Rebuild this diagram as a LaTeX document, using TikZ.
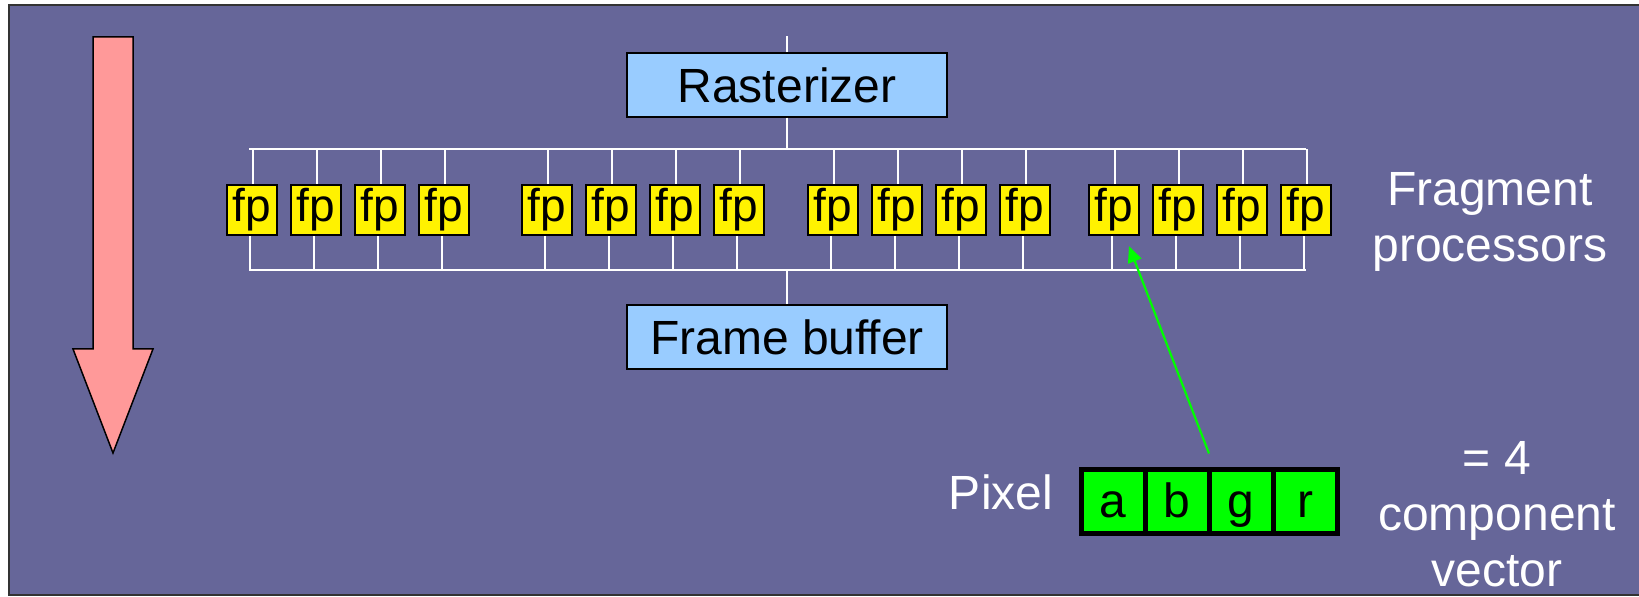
\documentclass[tikz,border=0pt]{standalone}
\usepackage{fontspec}
\setmainfont{Liberation Sans}
\usepackage{tikz}
\usetikzlibrary{positioning, arrows.meta}
\definecolor{slate}{RGB}{102,102,153}
\definecolor{skyblue}{RGB}{153,204,255}
\definecolor{salmonpink}{RGB}{255,153,153}

\begin{document}
\begin{tikzpicture}[
  x=0.5pt, y=-0.5pt,
  fpbox/.style={draw, fill=yellow, line width=1.2pt, inner sep=0pt, minimum size=25pt, font=\fontsize{23}{27}\selectfont},
  unitbox/.style={draw, fill=skyblue, line width=0.75pt, inner sep=0pt, minimum width=160pt, minimum height=32pt, font=\fontsize{24}{28.5}\selectfont},
  cell/.style={draw, fill=green, line width=2.5pt, inner sep=0pt, outer sep=0pt, minimum width=32pt, minimum height=32pt, text height=17pt, text depth=0.5pt, font=\fontsize{24}{28.5}\selectfont},
  bus/.style={white, line width=0.9pt},
  lbl/.style={text=white, align=center, inner sep=0pt, font=\fontsize{24}{28}\selectfont},
  ptr/.style={green, line width=1.1pt, -{Triangle[length=8pt,width=7pt]}},
  node distance=0pt
]
  \useasboundingbox (0,0) rectangle (1639,597);
  \draw[fill=slate, draw=black!80, line width=0.75pt] (9,5) rectangle (1660,595);

  % big arrow on the left
  \draw[fill=salmonpink, line width=0.75pt] (93,37) -- (133,37) -- (133,349) -- (153,349)
    -- (113,453) -- (73,349) -- (93,349) -- cycle;

  \node[unitbox] (rast) at (787,85) {Rasterizer};
  \node[unitbox] (fbuf) at (787,337) {Frame buffer};

  % four groups of fragment processors
  \foreach \g/\gx in {0/252, 1/547, 2/833, 3/1114}
    \foreach \i in {0,...,3}
      \node[fpbox] (fp\g\i) at ({\gx+64*\i},210) {fp};

  \coordinate (tbus) at (787,149);
  \coordinate (bbus) at (787,270);
  \draw[bus] (rast.north) -- ++(0,-16);
  \draw[bus] (rast.south) -- (tbus);
  \draw[bus] (fbuf.north) -- (bbus);
  \draw[bus] (tbus -| fp00.north) ++(-3,0) -- (tbus -| fp33.north);
  \draw[bus] (bbus -| fp00.south) ++(-3,0) -- (bbus -| fp33.south);
  \foreach \g in {0,...,3}
    \foreach \i in {0,...,3} {
      \draw[bus] ([xshift=0.5pt]fp\g\i.north) -- ++(0,-35);
      \draw[bus] ([xshift=-1pt]fp\g\i.south) -- ++(0,34);
    }

  \node[lbl] (fplbl) at (1490,222) {Fragment\\processors};

  % the pixel and its four components
  \node[lbl, anchor=base] (pixlbl) at (1001,510) {Pixel};
  \node[cell] (pixa) at (1113,501.5) {a};
  \node[cell, right=of pixa] (pixb) {b};
  \node[cell, right=of pixb] (pixg) {g};
  \node[cell, right=of pixg] (pixr) {r};
  \node[lbl] (veclbl) at (1497,514) {= 4\\component\\vector};

  \coordinate (ptail) at ([yshift=8pt]pixb.north east);
  \coordinate (ptip) at ([shift={(15,10)}]fp30.south);
  \draw[ptr] (ptail) -- (ptip);
\end{tikzpicture}
\end{document}
